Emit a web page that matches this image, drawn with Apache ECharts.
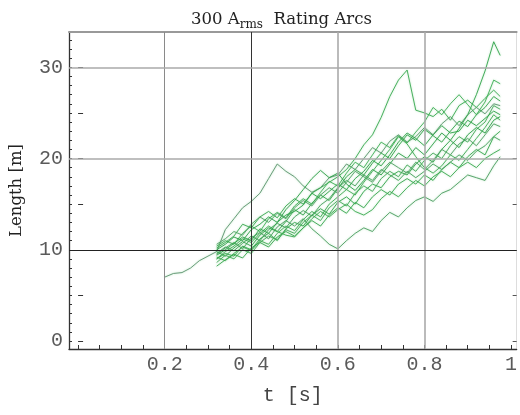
<!DOCTYPE html>
<html><head><meta charset="utf-8">
<script src="https://cdn.jsdelivr.net/npm/echarts@6/dist/echarts.min.js"></script>
<style>html,body{margin:0;padding:0;background:#fff}#c{width:520px;height:415px}</style>
</head><body><div id="c"></div><script>
// time samples [s]
const t = [0.20,0.22,0.24,0.26,0.28,0.30,0.32,0.34,0.36,0.38,0.40,0.42,0.44,0.46,0.48,0.50,0.52,0.54,0.56,0.58,0.60,0.62,0.64,0.66,0.68,0.70,0.72,0.74,0.76,0.78,0.80,0.82,0.84,0.86,0.88,0.90,0.92,0.94,0.96,0.975];
// arc lengths [m]
const arcA = [7.0,7.4,7.5,8.0,8.8,9.3,9.8,12.2,13.4,14.6,15.3,16.2,17.8,19.4,18.6,18.0,17.0,16.3,16.8,17.9,18.2,19.4,18.8,20.0,21.2,20.6,21.9,22.6,21.8,22.4,23.4,22.6,23.8,24.6,23.6,24.8,25.6,24.9,26.0,25.8];
const arcB = [null,null,null,null,null,null,10.2,10.8,11.5,12.8,12.4,13.6,14.2,13.5,14.8,15.6,15.0,16.2,16.8,17.4,18.0,18.8,20.0,21.5,22.6,24.5,26.8,28.6,29.7,25.3,25.0,24.6,25.4,24.2,25.8,26.4,25.6,26.6,27.5,26.8];
const arcC = [null,null,null,null,null,null,9.0,9.6,9.3,10.4,10.0,11.2,11.8,11.0,12.3,13.0,12.6,13.8,14.5,13.9,15.2,15.8,15.0,16.4,17.2,16.8,18.0,18.6,18.2,19.4,20.2,19.6,21.0,22.0,23.3,24.8,27.0,29.6,32.8,31.3];
const arcD = [null,null,null,null,null,null,9.5,10.2,10.8,10.1,11.3,11.9,11.2,12.5,13.2,12.6,13.4,12.3,11.5,10.6,10.1,11.0,11.8,12.4,12.0,13.2,14.1,13.6,14.6,15.4,15.8,15.3,16.2,16.6,17.4,18.2,17.9,17.6,19.2,20.2];
const arcE = [null,null,null,null,null,null,10.4,11.0,10.6,11.8,12.6,12.0,13.4,14.1,13.5,14.8,15.6,15.0,16.3,17.5,17.0,18.4,19.6,19.0,20.4,21.8,21.2,22.5,21.7,22.9,24.0,25.6,24.8,26.0,27.0,25.9,24.8,26.2,28.6,28.2];
const arcF = [null,null,null,null,null,null,9.8,9.3,10.2,10.9,10.4,11.6,12.4,12.0,13.1,14.4,13.8,15.1,16.0,15.4,16.7,18.0,18.8,18.2,19.5,20.6,20.0,21.4,22.6,22.0,23.2,22.5,21.8,23.0,24.1,23.5,24.8,25.6,26.8,26.3];
const arcG = [null,null,null,null,null,null,8.6,9.4,9.0,10.0,9.6,10.8,11.5,11.1,12.2,11.8,13.0,13.8,13.2,14.6,15.4,14.8,16.2,17.0,16.4,17.8,18.6,18.0,19.3,18.6,19.8,20.6,20.0,21.4,22.4,21.8,23.2,24.0,25.8,25.4];
const arcH = [null,null,null,null,null,null,10.0,10.6,11.4,11.0,12.2,12.8,13.6,13.0,14.4,15.4,16.6,17.8,18.7,17.9,18.4,17.2,16.5,17.6,18.8,18.2,19.4,20.6,20.0,21.2,20.4,21.6,22.8,22.0,21.2,22.6,23.4,22.8,24.2,24.6];
const arcI = [null,null,null,null,null,null,9.2,8.8,9.6,10.3,9.9,11.0,10.6,11.8,12.6,12.1,13.3,14.2,13.6,15.0,15.8,16.6,16.0,17.4,18.6,19.8,21.0,22.4,21.6,20.2,19.0,18.4,19.2,20.4,19.8,21.0,22.2,23.4,24.8,24.2];
const arcJ = [null,null,null,null,null,null,10.6,11.2,12.0,11.6,12.8,13.6,13.0,14.0,13.4,14.6,15.4,14.8,16.0,16.8,16.2,17.4,18.6,18.0,17.4,18.6,19.6,19.0,18.4,19.6,18.8,19.8,21.0,20.4,21.6,22.2,21.4,22.6,23.8,23.5];
const arcK = [null,null,null,null,null,null,8.2,8.9,9.5,9.1,10.2,10.8,10.3,11.4,12.0,11.5,12.4,13.2,12.6,13.8,14.6,14.0,15.2,14.6,15.8,16.6,16.0,17.2,17.8,17.2,18.2,17.6,18.8,19.6,19.0,20.2,21.0,20.4,22.4,23.0];
const arcL = [null,null,null,null,null,null,9.6,10.3,9.9,10.7,11.5,11.0,12.2,12.9,12.4,13.6,14.3,13.7,14.9,15.6,16.8,17.6,17.0,18.2,17.6,18.8,18.2,17.6,18.6,17.9,18.6,19.4,18.8,19.6,20.4,19.8,20.8,21.4,22.4,22.0];
const arcM = [null,null,null,null,null,null,9.0,9.8,10.4,11.2,10.8,11.8,12.6,12.0,11.6,11.4,12.4,13.4,14.2,13.6,14.4,15.0,14.2,13.8,14.4,15.6,16.4,15.8,16.8,17.6,17.0,18.0,18.6,18.0,19.0,19.6,19.0,20.0,20.6,21.0];
const arcN = [null,null,null,null,null,null,9.4,10.0,10.7,11.4,11.0,12.3,11.8,13.0,13.8,14.2,14.9,16.2,15.6,16.4,17.2,16.6,17.8,18.6,19.8,19.2,20.4,21.8,22.8,22.2,21.4,22.6,23.6,22.8,23.0,24.2,23.6,24.4,25.2,24.8];

// tick positions / labels
const xLabelValues = [0.2,0.4,0.6,0.8,1];
const xTickValues = [0,0.05,0.1,0.15,0.2,0.25,0.3,0.35,0.4,0.45,0.5,0.55,0.6,0.65,0.7,0.75,0.8,0.85,0.9,0.95,1];
const yLabelValues = [0,10,20,30];
const yTickValues = [0,1,2,3,4,5,6,7,8,9,10,11,12,13,14,15,16,17,18,19,20,21,22,23,24,25,26,27,28,29,30,31,32,33];
const yMidTickValues = [0,5,10,15,20,25,30];
const gridX = [0.2,0.4,0.6,0.8];
const gridY = [10,20,30];
const originX = 0.4, originY = 10;

const arcs = [arcA,arcB,arcC,arcD,arcE,arcF,arcG,arcH,arcI,arcJ,arcK,arcL,arcM,arcN];
const colors = ['#5d9270','#3aa851','#33a44c','#4c9c62','#3fae56','#35a34d','#46a95b','#2f9f49','#41ab55','#52a066','#38a650','#48a05e','#3daa52','#30a24a'];

const xMin = -0.021, xMax = 1.013, yMin = -0.877, yMax = 33.87;
const mono = 'Liberation Mono';
const serif = 'DejaVu Serif';

const gridLineStyle = v => {
  if (v === originX) return {color:'#333', width:1, type:'solid'};
  if (v === 0.2) return {color:'#8a8a8a', width:1, type:'solid'};
  return {color:'#aaa', width:1.6, type:'solid'};
};
const gridLineStyleY = v => {
  if (v === originY) return {color:'#222', width:1.2, type:'solid'};
  return {color:'#aaa', width:1.6, type:'solid'};
};

const series = [{
  type:'line', data:[], z:1, silent:true,
  markLine:{
    silent:true, symbol:'none', animation:false, label:{show:false},
    data: gridX.map(v => ({xAxis:v, lineStyle:gridLineStyle(v)}))
      .concat(gridY.map(v => ({yAxis:v, lineStyle:gridLineStyleY(v)})))
  }
}];
arcs.forEach((arr, k) => {
  const data = [];
  arr.forEach((y, i) => { if (y !== null) data.push([t[i], y]); });
  series.push({
    type:'line', data, z:3, showSymbol:false, symbol:'none', animation:false, silent:true,
    lineStyle:{color:colors[k], width:1, opacity:0.9, shadowBlur:2, shadowColor:'rgba(70,190,90,0.45)'}
  });
});

const chart = echarts.init(document.getElementById('c'), null, {renderer:'canvas'});
chart.setOption({
  animation:false,
  backgroundColor:'#fff',
  title:{
    text:'{a|300 A}{s|rms}{a|  Rating Arcs}',
    left:186, top:4,
    textStyle:{fontWeight:'normal', rich:{
      a:{fontFamily:serif, fontSize:16.5, fontWeight:'normal', color:'#222', lineHeight:22, verticalAlign:'middle'},
      s:{fontFamily:serif, fontSize:12, fontWeight:'normal', color:'#222', lineHeight:14, verticalAlign:'bottom'}
    }}
  },
  grid:{left:67, right:2, top:32, bottom:66, containLabel:false},
  xAxis:[{
    type:'value', min:xMin, max:xMax, position:'bottom',
    name:'t [s]', nameLocation:'middle', nameGap:37,
    nameTextStyle:{fontFamily:mono, fontSize:20, color:'#444'},
    axisLine:{show:true, onZero:false, lineStyle:{color:'#333', width:1.3}},
    axisTick:{show:true, inside:true, length:4, customValues:xTickValues, lineStyle:{color:'#333'}},
    axisLabel:{show:true, customValues:xLabelValues, margin:6, fontFamily:mono, fontSize:20, color:'#5a5a5a',
      formatter: v => (Math.abs(v-1)<1e-9 ? '1' : v.toFixed(1))},
    splitLine:{show:false}
  },{
    type:'value', min:xMin, max:xMax, position:'top',
    axisLine:{show:true, onZero:false, lineStyle:{color:'#999', width:2}},
    axisTick:{show:false}, axisLabel:{show:false}, splitLine:{show:false}
  }],
  yAxis:[{
    type:'value', min:yMin, max:yMax, position:'left',
    name:'Length [m]', nameLocation:'middle', nameGap:44, nameRotate:90,
    nameTextStyle:{fontFamily:serif, fontSize:16.5, color:'#222'},
    axisLine:{show:true, onZero:false, lineStyle:{color:'#333', width:1.3}},
    axisTick:{show:true, inside:true, length:3, customValues:yTickValues, lineStyle:{color:'#333'}},
    axisLabel:{show:true, customValues:yLabelValues, margin:6, fontFamily:mono, fontSize:20, color:'#5a5a5a'},
    splitLine:{show:false}
  },{
    type:'value', min:yMin, max:yMax, position:'left',
    axisLine:{show:false},
    axisTick:{show:true, inside:true, length:5, customValues:yMidTickValues, lineStyle:{color:'#333'}},
    axisLabel:{show:false}, splitLine:{show:false}
  },{
    type:'value', min:yMin, max:yMax, position:'right',
    axisLine:{show:true, onZero:false, lineStyle:{color:'#ddd', width:1}},
    axisTick:{show:true, inside:true, length:4, customValues:yMidTickValues, lineStyle:{color:'#555'}},
    axisLabel:{show:false}, splitLine:{show:false}
  }],
  series
});
</script></body></html>
